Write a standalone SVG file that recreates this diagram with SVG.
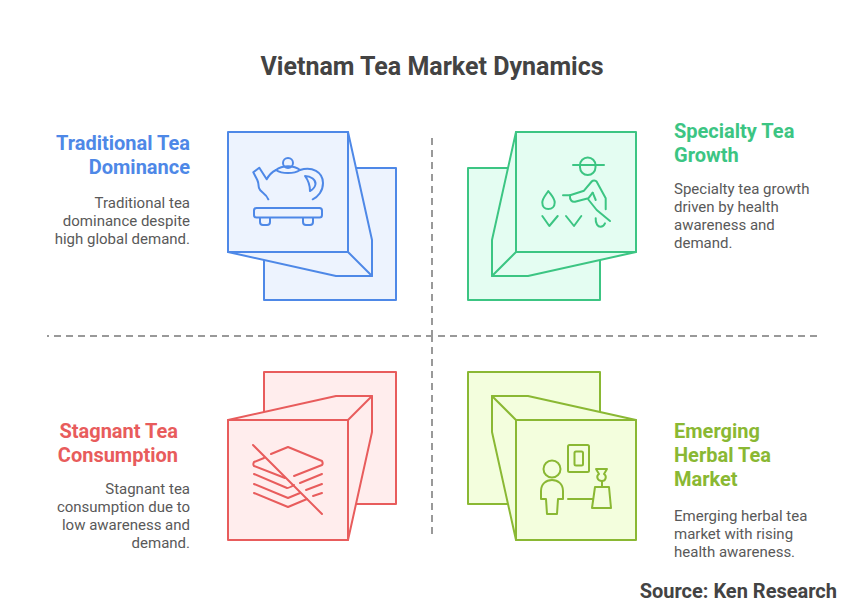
<svg xmlns="http://www.w3.org/2000/svg" width="864" height="613" viewBox="0 0 864 613">
<style>
text{font-family:Roboto,"Liberation Sans",sans-serif}
.title{font-size:25px;font-weight:700;fill:#434343}
.h{font-size:20px;font-weight:700}
.b{font-size:15px;fill:#595959}
.e{text-anchor:end}
.p{stroke-width:2;stroke-linejoin:round;stroke-linecap:round}
.i{stroke-width:2;stroke-linejoin:round;stroke-linecap:round}
.i *{fill:none}
.blue{fill:#edf3fe;stroke:#4e88e7}
.green{fill:#e4fdf2;stroke:#3cc583}
.red{fill:#ffeded;stroke:#e85c5c}
.olive{fill:#f3fedd;stroke:#8ab833}
.bt{fill:#4e88e7}.gt{fill:#3cc583}.rt{fill:#e85c5c}.ot{fill:#8ab833}
.d{fill:none;stroke:#999;stroke-width:2;stroke-dasharray:7 5}
</style>
<rect width="864" height="613" fill="#fff"/>
<text class="title" x="432" y="75" text-anchor="middle">Vietnam Tea Market Dynamics</text>
<g id="connectors">
<path class="d" d="M432 138V336"/>
<path class="d" d="M432 534V336"/>
<path class="d" d="M817 336H47"/>
</g>
<g id="node-traditional">
<path class="p blue" d="M264 168H396V300H264Z"/>
<path class="p blue" d="M228 252L336 276H372V240L348 132Z"/>
<path class="p blue" d="M348 252L372 276"/>
<path class="p blue" d="M228 132H348V252H228Z"/>
<g class="i blue">
<path d="M268.300 199.300C266 193 260 192 259 188C258 184 259 184 257.300 180L253.300 172.300L259.300 167.700L266.700 179.300C269 175 272 172 276 170"/>
<path d="M276 170C282 174 294 174 300 170C294 165 282 165 276 170Z"/>
<circle cx="288" cy="163" r="5"/>
<path d="M300 170C312 166 323 172 323 183C323 191 318 197 312.700 199.300"/>
<path d="M305 176C311 176 316 180 315.500 184C315 188 312 190 310 191C310 185 308 180 305 176Z"/>
<rect x="254" y="208" width="68" height="9.500" rx="2.500"/>
<path d="M260 218V222C260 224 261 225 263 225H267C269 225 270 224 270 222V218"/>
<path d="M303 218V222C303 224 304 225 306 225H310C312 225 313 224 313 222V218"/>
</g>
<text class="h e bt" x="190" y="150">Traditional Tea</text>
<text class="h e bt" x="190" y="174">Dominance</text>
<text class="b e" x="190" y="208">Traditional tea</text>
<text class="b e" x="190" y="226">dominance despite</text>
<text class="b e" x="190" y="244">high global demand.</text>
</g>
<g id="node-specialty">
<path class="p green" d="M468 168H600V300H468Z"/>
<path class="p green" d="M636 252L528 276H492V240L516 132Z"/>
<path class="p green" d="M516 252L492 276"/>
<path class="p green" d="M516 132H636V252H516Z"/>
<g class="i green">
<path d="M573 165H604"/>
<rect x="580" y="157.500" width="15.500" height="17.500" rx="7.700"/>
<path d="M563 195.300H570L584 190.700L591.700 181.500C593 180 595.500 180 596.700 181.700L605.700 198.300V209.300"/>
<path d="M592.700 192.700L588.300 198.300L575 201.700C572 202.300 569.500 200 570 195.300"/>
<path d="M592.700 192.700L595.700 200"/>
<path d="M588.300 199.500L596.700 210L610 221"/>
<path d="M595.700 218.300C595.300 224 598 226.700 600.500 226.700C602.500 226.700 604 225.500 605 223.300"/>
<path d="M548.300 191C552 196 554.700 198.500 554.700 202.500C554.700 206.500 552 209 548.300 209C544.700 209 542.300 206.500 542.300 202.500C542.300 198.500 545 196 548.300 191Z"/>
<path d="M542.300 216L549.300 226L557.700 216"/>
<path d="M566 216L574 226L581.300 216"/>
</g>
<text class="h gt" x="674" y="138">Specialty Tea</text>
<text class="h gt" x="674" y="162">Growth</text>
<text class="b" x="674" y="194">Specialty tea growth</text>
<text class="b" x="674" y="212">driven by health</text>
<text class="b" x="674" y="230">awareness and</text>
<text class="b" x="674" y="248">demand.</text>
</g>
<g id="node-stagnant">
<path class="p red" d="M264 372H396V504H264Z"/>
<path class="p red" d="M228 420L336 396H372V432L348 540Z"/>
<path class="p red" d="M348 420L372 396"/>
<path class="p red" d="M228 420H348V540H228Z"/>
<g class="i red">
<path d="M253 445L322 514"/>
<path d="M271 454L288 447L322 461C323 463 323 464 322 465L294 476"/>
<path d="M264 458L254 462C253 464 253 465 254 466L285 478"/>
<path d="M254 474L287 488C288 488 289 488 294 485"/>
<path d="M300 483L322 474"/>
<path d="M254 484L288 498L300 493"/>
<path d="M306 490L322 484"/>
<path d="M254 493L288 507L307 499"/>
<path d="M313 496L322 493"/>
</g>
<text class="h e rt" x="178" y="438">Stagnant Tea</text>
<text class="h e rt" x="178" y="462">Consumption</text>
<text class="b e" x="190" y="494">Stagnant tea</text>
<text class="b e" x="190" y="512">consumption due to</text>
<text class="b e" x="190" y="530">low awareness and</text>
<text class="b e" x="190" y="548">demand.</text>
</g>
<g id="node-emerging">
<path class="p olive" d="M468 372H600V504H468Z"/>
<path class="p olive" d="M636 420L528 396H492V432L516 540Z"/>
<path class="p olive" d="M516 420L492 396"/>
<path class="p olive" d="M516 420H636V540H516Z"/>
<g class="i olive">
<circle cx="552" cy="469" r="8.500"/>
<path d="M541 499V491C541 484 546 480 552 480C558 480 563 484 563 491V499H558L557 514H547L546 499Z"/>
<rect x="568" y="445" width="21" height="27" rx="1.500"/>
<rect x="574.500" y="451.500" width="8.500" height="14" rx="1.500"/>
<path d="M568 499H593"/>
<path d="M595 487H609L611 508H592Z"/>
<path d="M602 487V481"/>
<path d="M596 469H607L604 474C607 476 606 481 602 481C597 481 596 476 599 474Z"/>
</g>
<text class="h ot" x="674" y="438">Emerging</text>
<text class="h ot" x="674" y="462">Herbal Tea</text>
<text class="h ot" x="674" y="486">Market</text>
<text class="b" x="674" y="521">Emerging herbal tea</text>
<text class="b" x="674" y="539">market with rising</text>
<text class="b" x="674" y="557">health awareness.</text>
</g>
<text x="837" y="598" text-anchor="end" style="font-size:20px;font-weight:700;fill:#434343">Source: Ken Research</text>
</svg>
